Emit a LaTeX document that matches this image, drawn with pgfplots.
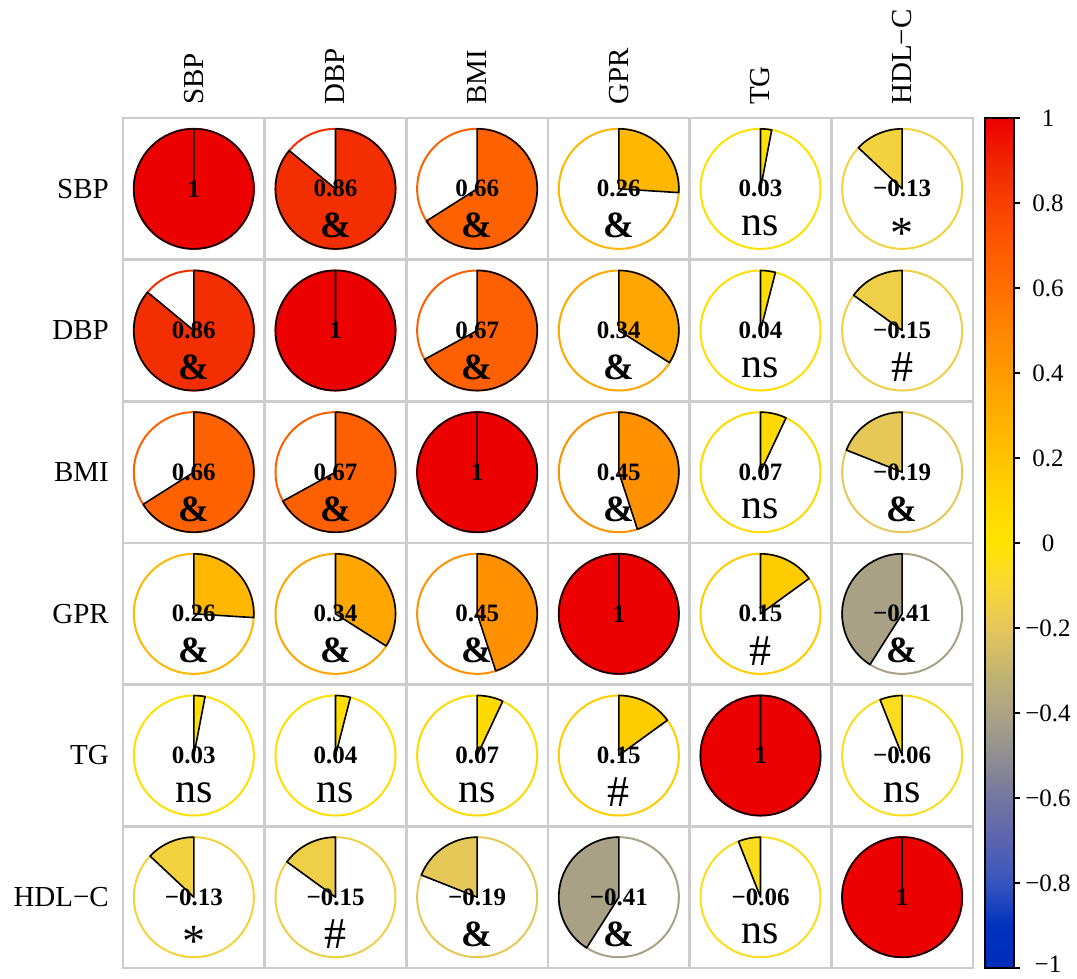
\documentclass[border=0pt]{standalone}
\usepackage{pgfplots}
\pgfplotsset{compat=1.18}
\usepackage{fontspec}
\setmainfont{Liberation Serif}

\pgfdeclareplotmark{nothing}{}

\pgfplotsset{
  colormap={corrmap}{
    rgb255=(0,45,185) rgb255=(0,50,190) rgb255=(55,85,190) rgb255=(90,100,175)
    rgb255=(115,118,160) rgb255=(145,142,145) rgb255=(172,163,133) rgb255=(195,180,112)
    rgb255=(228,198,92) rgb255=(250,215,50) rgb255=(255,228,0) rgb255=(255,214,0)
    rgb255=(255,195,0) rgb255=(255,175,0) rgb255=(255,155,0) rgb255=(255,133,0)
    rgb255=(255,110,0) rgb255=(253,88,0) rgb255=(248,64,0) rgb255=(240,35,0)
    rgb255=(237,0,0)
  },
}

\newcommand\sigamp{{\fontsize{37}{37}\selectfont\bfseries\&}}
\newcommand\signs{{\fontsize{42}{42}\selectfont ns}}
\newcommand\sighash{{\fontsize{44}{44}\selectfont\#}}
\newcommand\sigstar{{\fontsize{46}{46}\selectfont\raisebox{-7pt}[0.68em][0pt]{*}}}
\newcommand\signone{}
\newcommand\valfont{\fontsize{25}{25}\selectfont\bfseries}
\newcommand\labfont{\fontsize{29}{29}\selectfont}

% #1 value, #2 printed label, #3 significance code
\newcommand\piecode[3]{%
  \begingroup
  \pgfkeys{/pgf/fpu=false}%
  \pgfplotscolormapdefinemappedcolor{\pgfplotspointmetatransformed}%
  \pgfmathsetmacro\dang{-360*(#1)}%
  \draw[mapped color, line width=2pt] (0pt,0pt) circle[radius=60pt];
  \filldraw[fill=mapped color, draw=black, line width=1.6pt, line join=round]
    (0pt,0pt) -- (0pt,60pt) arc[start angle=90, delta angle=\dang, radius=60pt] -- cycle;
  \node[font=\valfont, inner sep=0pt] at (0pt,0pt) {#2};
  \node[inner sep=0pt] at (0pt,-37pt) {\csname sig#3\endcsname};
  \endgroup
}
% #1 column, #2 row, #3 r, #4 label, #5 significance
\newcommand\pie[5]{%
  \addplot[scatter, only marks, mark=nothing, point meta=explicit,
    scatter/@pre marker code/.code={\piecode{#3}{#4}{#5}},
    scatter/@post marker code/.code={}]
    coordinates {(#1,#2) [#3]};
}

\begin{document}
\begin{tikzpicture}
\useasboundingbox (0,0) rectangle (1077pt,978pt);
\begin{axis}[
  at={(123pt,10pt)}, anchor=south west,
  scale only axis, width=850pt, height=850pt,
  xmin=0.5, xmax=6.5, ymin=0.5, ymax=6.5, y dir=reverse,
  clip=false,
  axis line style={draw=black!20, line width=2.5pt},
  xtick={1,...,6}, ytick={1,...,6},
  xticklabels={SBP,DBP,BMI,GPR,TG,HDL−C},
  yticklabels={SBP,DBP,BMI,GPR,TG,HDL−C},
  xticklabel pos=right,
  xticklabel style={font=\labfont, rotate=90, anchor=west, inner sep=0pt},
  xticklabel shift=13pt,
  yticklabel style={font=\labfont, anchor=east, inner sep=0pt},
  yticklabel shift=14pt,
  major tick length=0pt, minor tick length=0pt,
  minor xtick={1.5,2.5,3.5,4.5,5.5},
  minor ytick={1.5,2.5,3.5,4.5,5.5},
  xminorgrids, yminorgrids,
  minor grid style={draw=black!20, line width=2.5pt},
  colormap name=corrmap,
  point meta min=-1, point meta max=1,
]
\pie{1}{1}{1}{1}{none}
\pie{2}{1}{0.86}{0.86}{amp}
\pie{3}{1}{0.66}{0.66}{amp}
\pie{4}{1}{0.26}{0.26}{amp}
\pie{5}{1}{0.03}{0.03}{ns}
\pie{6}{1}{-0.13}{−0.13}{star}
\pie{1}{2}{0.86}{0.86}{amp}
\pie{2}{2}{1}{1}{none}
\pie{3}{2}{0.67}{0.67}{amp}
\pie{4}{2}{0.34}{0.34}{amp}
\pie{5}{2}{0.04}{0.04}{ns}
\pie{6}{2}{-0.15}{−0.15}{hash}
\pie{1}{3}{0.66}{0.66}{amp}
\pie{2}{3}{0.67}{0.67}{amp}
\pie{3}{3}{1}{1}{none}
\pie{4}{3}{0.45}{0.45}{amp}
\pie{5}{3}{0.07}{0.07}{ns}
\pie{6}{3}{-0.19}{−0.19}{amp}
\pie{1}{4}{0.26}{0.26}{amp}
\pie{2}{4}{0.34}{0.34}{amp}
\pie{3}{4}{0.45}{0.45}{amp}
\pie{4}{4}{1}{1}{none}
\pie{5}{4}{0.15}{0.15}{hash}
\pie{6}{4}{-0.41}{−0.41}{amp}
\pie{1}{5}{0.03}{0.03}{ns}
\pie{2}{5}{0.04}{0.04}{ns}
\pie{3}{5}{0.07}{0.07}{ns}
\pie{4}{5}{0.15}{0.15}{hash}
\pie{5}{5}{1}{1}{none}
\pie{6}{5}{-0.06}{−0.06}{ns}
\pie{1}{6}{-0.13}{−0.13}{star}
\pie{2}{6}{-0.15}{−0.15}{hash}
\pie{3}{6}{-0.19}{−0.19}{amp}
\pie{4}{6}{-0.41}{−0.41}{amp}
\pie{5}{6}{-0.06}{−0.06}{ns}
\pie{6}{6}{1}{1}{none}
\end{axis}
% colour scale
\begin{axis}[
  at={(985pt,10pt)}, anchor=south west,
  scale only axis, width=29pt, height=850pt,
  xmin=0, xmax=1, ymin=-1, ymax=1, enlargelimits=false,
  axis on top,
  axis line style={draw=black, line width=1.5pt},
  xtick=\empty,
  ytick={-1,-0.8,-0.6,-0.4,-0.2,0,0.2,0.4,0.6,0.8,1},
  yticklabels={\raisebox{0pt}[\height][7pt]{−1},−0.8,−0.6,−0.4,−0.2,0,0.2,0.4,0.6,0.8,1},
  yticklabel style={font=\fontsize{25}{25}\selectfont, anchor=center, inner sep=0pt},
  yticklabel shift=28pt,
  ytick pos=right, yticklabel pos=right,
  tick align=outside, major tick length=6pt,
  tick style={draw=black, line width=1.5pt},
  colormap name=corrmap,
  point meta min=-1, point meta max=1,
]
\addplot[surf, shader=interp, point meta=y, mesh/cols=2, mesh/ordering=x varies]
  coordinates {
  (0,-1) (1,-1) (0,-0.9) (1,-0.9) (0,-0.8) (1,-0.8) (0,-0.7) (1,-0.7)
  (0,-0.6) (1,-0.6) (0,-0.5) (1,-0.5) (0,-0.4) (1,-0.4) (0,-0.3) (1,-0.3)
  (0,-0.2) (1,-0.2) (0,-0.1) (1,-0.1) (0,0) (1,0) (0,0.1) (1,0.1)
  (0,0.2) (1,0.2) (0,0.3) (1,0.3) (0,0.4) (1,0.4) (0,0.5) (1,0.5)
  (0,0.6) (1,0.6) (0,0.7) (1,0.7) (0,0.8) (1,0.8) (0,0.9) (1,0.9)
  (0,1) (1,1)
  };
\end{axis}
\end{tikzpicture}
\end{document}
